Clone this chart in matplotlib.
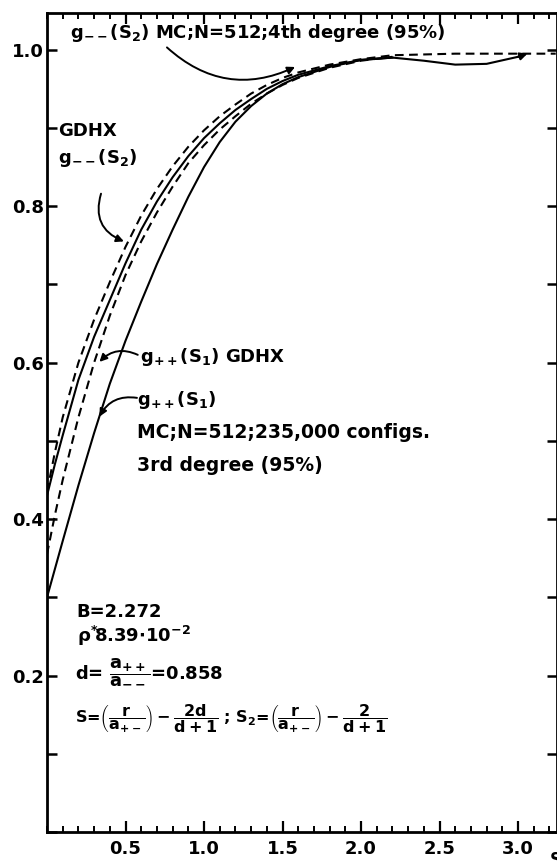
import matplotlib
matplotlib.use("Agg")
import matplotlib.pyplot as plt
from matplotlib.ticker import MultipleLocator

plt.rcParams["font.family"] = ["DejaVu Sans"]
plt.rcParams["font.weight"] = "bold"
plt.rcParams["mathtext.fontset"] = "custom"
plt.rcParams["mathtext.rm"] = "DejaVu Sans:bold"
plt.rcParams["mathtext.it"] = "DejaVu Sans:bold"
plt.rcParams["mathtext.bf"] = "DejaVu Sans:bold"
plt.rcParams["mathtext.sf"] = "DejaVu Sans:bold"
plt.rcParams["mathtext.default"] = "rm"

# g++(S1), Monte Carlo, 3rd degree fit
gpp_mc_s = [0.0, 0.1, 0.2, 0.3, 0.4, 0.5, 0.6, 0.7, 0.8, 0.9, 1.0, 1.1, 1.2, 1.3, 1.4, 1.5, 1.6, 1.8, 2.0, 2.2]
gpp_mc_g = [0.300, 0.372, 0.443, 0.510, 0.573, 0.628, 0.678, 0.726, 0.770, 0.812, 0.850, 0.882, 0.908, 0.928, 0.944, 0.956, 0.965, 0.978, 0.987, 0.990]

# g--(S2), Monte Carlo, 4th degree fit
gmm_mc_s = [0.0, 0.05, 0.1, 0.2, 0.3, 0.4, 0.5, 0.6, 0.7, 0.8, 0.9, 1.0, 1.1, 1.2, 1.3, 1.4, 1.5, 1.6, 1.8, 2.0, 2.2, 2.4, 2.6, 2.8, 3.0]
gmm_mc_g = [0.430, 0.470, 0.507, 0.578, 0.633, 0.680, 0.727, 0.770, 0.806, 0.837, 0.864, 0.887, 0.906, 0.923, 0.937, 0.950, 0.960, 0.968, 0.979, 0.987, 0.990, 0.986, 0.981, 0.982, 0.991]

# g++(S1), GDHX
gpp_gd_s = [0.0, 0.05, 0.1, 0.2, 0.3, 0.4, 0.5, 0.6, 0.7, 0.8, 0.9, 1.0, 1.1, 1.2, 1.3, 1.4, 1.5, 1.6, 1.8, 2.0, 2.2]
gpp_gd_g = [0.355, 0.405, 0.450, 0.530, 0.600, 0.660, 0.712, 0.755, 0.792, 0.825, 0.855, 0.878, 0.898, 0.915, 0.931, 0.944, 0.955, 0.964, 0.977, 0.986, 0.991]

# g--(S2), GDHX
gmm_gd_s = [0.0, 0.05, 0.1, 0.2, 0.3, 0.4, 0.5, 0.6, 0.7, 0.8, 0.9, 1.0, 1.1, 1.2, 1.3, 1.4, 1.5, 1.6, 1.8, 2.0, 2.2, 2.6, 3.0, 3.24]
gmm_gd_g = [0.435, 0.485, 0.530, 0.600, 0.655, 0.703, 0.748, 0.788, 0.822, 0.851, 0.876, 0.897, 0.915, 0.930, 0.944, 0.955, 0.964, 0.971, 0.981, 0.988, 0.993, 0.995, 0.995, 0.995]

x_major = [0.5, 1.0, 1.5, 2.0, 2.5, 3.0]
x_labels = ["0.5", "1.0", "1.5", "2.0", "2.5", "3.0"]
y_major = [0.2, 0.4, 0.6, 0.8, 1.0]
y_labels = ["0.2", "0.4", "0.6", "0.8", "1.0"]

fig = plt.figure(figsize=(5.57, 8.61), dpi=100)
ax = fig.add_axes([47 / 557, 29 / 861, 509.5 / 557, 819 / 861])
ax.set_xlim(0, 3.245)
ax.set_ylim(0, 1.047)

lw = 1.5
dash = (0, (4.2, 2.6))
ax.plot(gpp_mc_s, gpp_mc_g, color="black", lw=lw)
ax.plot(gmm_mc_s, gmm_mc_g, color="black", lw=lw)
ax.plot(gpp_gd_s, gpp_gd_g, color="black", lw=lw, linestyle=dash)
ax.plot(gmm_gd_s, gmm_gd_g, color="black", lw=lw, linestyle=dash)

# arrowhead closing the MC g-- tail
ax.annotate("", xy=(3.06, 0.995), xytext=(gmm_mc_s[-1], gmm_mc_g[-1]),
            arrowprops=dict(arrowstyle="-|>", color="black", lw=lw,
                            mutation_scale=11, shrinkA=0, shrinkB=0))

for sp in ax.spines.values():
    sp.set_linewidth(2.0)

ax.set_xticks(x_major)
ax.set_xticklabels(x_labels)
ax.xaxis.set_minor_locator(MultipleLocator(0.1))
ax.set_yticks(y_major)
ax.set_yticklabels(y_labels)
ax.yaxis.set_minor_locator(MultipleLocator(0.1))
ax.tick_params(axis="x", which="major", direction="in", length=8, width=1.6,
               top=True, labelsize=13, pad=6)
ax.tick_params(axis="x", which="minor", direction="in", length=4.5, width=1.4, top=True)
ax.tick_params(axis="y", which="both", direction="in", length=7.5, width=1.8,
               right=True, labelsize=13, pad=2)
for lab in ax.get_xticklabels() + ax.get_yticklabels():
    lab.set_fontweight("bold")

fig.text(550 / 557, 1 - 851 / 861, "S", fontsize=12, fontweight="bold",
         ha="left", va="top")

fs = 13
arw = dict(arrowstyle="-|>", color="black", lw=1.4, mutation_scale=11,
           shrinkA=0, shrinkB=0)

ax.text(0.146, 1.021, r"g$_{--}$(S$_2$) MC;N=512;4th degree (95%)",
        fontsize=fs, ha="left", va="center")
ax.annotate("", xy=(1.58, 0.978), xytext=(0.764, 1.003),
            arrowprops=dict(arw, connectionstyle="arc3,rad=0.33"))

ax.text(0.07, 0.896, "GDHX", fontsize=fs, ha="left", va="center")
ax.text(0.07, 0.862, r"g$_{--}$(S$_2$)", fontsize=fs, ha="left", va="center")
ax.annotate("", xy=(0.49, 0.755), xytext=(0.344, 0.816),
            arrowprops=dict(arw, connectionstyle="arc3,rad=0.45"))

ax.text(0.59, 0.607, r"g$_{++}$(S$_1$) GDHX", fontsize=fs, ha="left", va="center")
ax.annotate("", xy=(0.334, 0.601), xytext=(0.578, 0.610),
            arrowprops=dict(arw, connectionstyle="arc3,rad=0.35"))

ax.text(0.573, 0.552, r"g$_{++}$(S$_1$)", fontsize=fs, ha="left", va="center")
ax.annotate("", xy=(0.334, 0.531), xytext=(0.573, 0.555),
            arrowprops=dict(arw, connectionstyle="arc3,rad=0.35"))
ax.text(0.573, 0.511, "MC;N=512;235,000 configs.", fontsize=13.5, ha="left", va="center")
ax.text(0.573, 0.468, "3rd degree (95%)", fontsize=13.5, ha="left", va="center")

ax.text(0.19, 0.281, "B=2.272", fontsize=fs, ha="left", va="center")
ax.text(0.19, 0.250, r"$\rho^{*}\!$8.39$\cdot$10$^{-2}$", fontsize=fs, ha="left", va="center")
ax.text(0.18, 0.206, r"d= $\dfrac{a_{++}}{a_{--}}$=0.858", fontsize=fs, ha="left", va="center")
ax.text(0.18, 0.145,
        r"S=$\left(\dfrac{r}{a_{+-}}\right)-\dfrac{2d}{d+1}$ ; S$_2$=$\left(\dfrac{r}{a_{+-}}\right)-\dfrac{2}{d+1}$",
        fontsize=11.5, ha="left", va="center")

fig.savefig("out.png", dpi=100)
